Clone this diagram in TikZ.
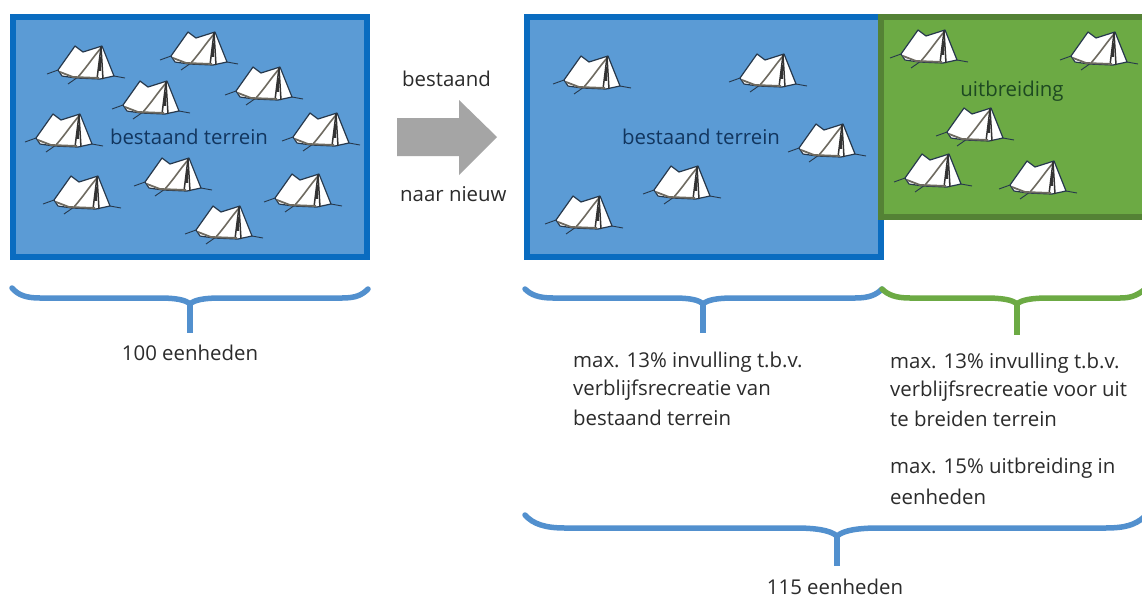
\documentclass[tikz,border=0pt]{standalone}
\usepackage{fontspec}
\setmainfont{Open Sans}
\definecolor{bluefill}{HTML}{5B9BD5}
\definecolor{blueedge}{HTML}{0A6CC0}
\definecolor{bracecol}{HTML}{5290CE}
\definecolor{greenfill}{HTML}{6CAA44}
\definecolor{greenedge}{HTML}{548235}
\definecolor{arrowgray}{HTML}{A5A5A5}
\definecolor{tentline}{HTML}{26384C}
\definecolor{tenthem}{HTML}{6E6A60}
\definecolor{labelink}{HTML}{2B2B2B}
\definecolor{blueink}{HTML}{12365F}
\definecolor{greenink}{HTML}{1E4A22}
\tikzset{
  field/.style={line width=6pt,line join=miter},
  lbl/.style={font=\fontsize{20.4}{28}\selectfont,text=labelink,inner sep=0pt,align=left},
  bluebrace/.style={draw=bracecol,line width=5.5pt,line cap=round,line join=round},
  greenbrace/.style={draw=greenfill,line width=5.5pt,line cap=round,line join=round},
  stem/.style={line cap=butt},
  tent/.pic={
    \draw[tentline,line width=0.9pt] (-39,9) -- (-28,5) (28,11) -- (39,13) (-18,19) -- (-5,10);
    \fill[white,draw=tentline,line width=1.2pt,line join=round]
      (-28,5) -- (-11,-19) -- (-3,-13) -- (16,-19) -- (28,11) -- (14,14) -- (-10,13) -- (-24,11) -- cycle;
    \draw[tenthem,line width=1.6pt] (-8,12) .. controls (0,3) and (8,-9) .. (15,-17);
    \draw[black!80,line width=1.5pt] (15,-18) -- (11,14);
    \draw[black!80,line width=1.5pt] (15,-18) -- (17,14);
    \draw[black!80,line width=1.5pt] (14,-8) -- (14,6);
    \draw[tenthem,line width=1.8pt] (-26,7) -- (-13,12) -- (13,13);
  }
}
\begin{document}
\begin{tikzpicture}[x=1pt,y=-1pt]
\useasboundingbox (0,0) rectangle (1142,600);
\fill[white] (0,0) rectangle (1142,600);
% left field
\draw[field,fill=bluefill,draw=blueedge] (13,17) rectangle (367,257);
\foreach \p in {(86,65),(199,51),(151,100),(264,86),(64,133),(321,132),(82,195),(173,177),(303,193),(224,225)}
  \pic at \p {tent};
\node[lbl,anchor=center,text=blueink] (oldA) at (189,137) {bestaand terrein};
% arrow
\fill[arrowgray] (397,118) -- (459,118) -- (459,100) -- (497,137) -- (459,175) -- (459,156) -- (397,156) -- cycle;
\node[lbl,anchor=west] (arrowTop) at (402,79) {bestaand};
\node[lbl,anchor=west] (arrowBottom) at (400,194) {naar nieuw};
% right fields
\draw[field,fill=bluefill,draw=blueedge] (527,17) rectangle (881,257);
\draw[field,fill=greenfill,draw=greenedge] (881,17) -- (1145,17) -- (1145,217) -- (881,217) -- cycle;
\foreach \p in {(592,75),(768,73),(827,143),(682,185),(584,215),(929,49),(1099,51),(975,127),(933,173),(1038,180)}
  \pic at \p {tent};
\node[lbl,anchor=center,text=blueink] (oldB) at (701,137) {bestaand terrein};
\node[lbl,anchor=center,text=greenink] (newB) at (1012,91) {uitbreiding};
% braces
\draw[bluebrace] (12,288) .. controls (18,295) and (26,298) .. (40,298) -- (160,298) .. controls (176,298) and (186,300) .. (190,304) .. controls (194,300) and (204,298) .. (220,298) -- (342,298) .. controls (356,298) and (362,295) .. (368,289);
\draw[bluebrace,stem] (190,302) -- (190,333);
\node[lbl,anchor=center] (c100) at (190,353) {100 eenheden};
\draw[bluebrace] (525,289) .. controls (531,295) and (539,298) .. (553,298) -- (674,298) .. controls (690,298) and (699,300) .. (703,304) .. controls (707,300) and (717,298) .. (733,298) -- (855,298) .. controls (869,298) and (876,295) .. (882,289);
\draw[bluebrace,stem] (703,302) -- (703,333);
\draw[greenbrace] (882,289) .. controls (888,295) and (896,298) .. (910,298) -- (985,298) .. controls (1003,298) and (1013,300) .. (1017,304) .. controls (1021,300) and (1031,298) .. (1049,298) -- (1120,298) .. controls (1130,298) and (1136,296) .. (1144,290);
\draw[greenbrace,stem] (1017,302) -- (1017,335);
\node[lbl,anchor=west] (textA) at (573,362) {max. 13\% invulling t.b.v.};
\node[lbl,anchor=west] (textA2) at (573,390) {verblijfsrecreatie van};
\node[lbl,anchor=west] (textA3) at (573,418) {bestaand terrein};
\node[lbl,anchor=west] (textB) at (890,363) {max. 13\% invulling t.b.v.};
\node[lbl,anchor=west] (textB2) at (890,391) {verblijfsrecreatie voor uit};
\node[lbl,anchor=west] (textB3) at (890,419) {te breiden terrein};
\node[lbl,anchor=west] (textC) at (890,468) {max. 15\% uitbreiding in};
\node[lbl,anchor=west] (textC2) at (890,497) {eenheden};
\draw[bluebrace] (525,515) .. controls (533,524) and (545,528) .. (565,528) -- (795,528) .. controls (815,528) and (830,530) .. (837,536) .. controls (844,530) and (859,528) .. (879,528) -- (1105,528) .. controls (1125,528) and (1135,525) .. (1144,517);
\draw[bluebrace,stem] (837,534) -- (837,566);
\node[lbl,anchor=center] (c115) at (835,587) {115 eenheden};
\end{tikzpicture}
\end{document}
